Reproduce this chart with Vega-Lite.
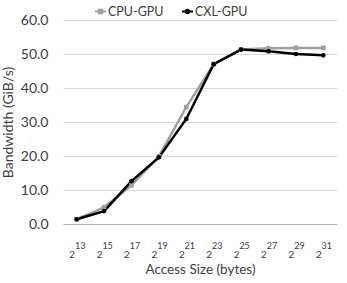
{
  "$schema": "https://vega.github.io/schema/vega-lite/v6.json",
  "width": 274,
  "height": 204,
  "autosize": {"type": "none"},
  "padding": {"left": 63, "top": 20, "right": 10, "bottom": 59},
  "config": {
    "view": {"stroke": null},
    "font": "Lato",
    "axis": {"labelFont": "Lato", "titleFont": "Lato", "labelColor": "#404040", "titleColor": "#404040", "titleFontWeight": "normal"}
  },
  "data": {
    "values": [
      {"size": "13", "series": "CPU-GPU", "bw": 1.4},
      {"size": "15", "series": "CPU-GPU", "bw": 4.9},
      {"size": "17", "series": "CPU-GPU", "bw": 11.4},
      {"size": "19", "series": "CPU-GPU", "bw": 19.9},
      {"size": "21", "series": "CPU-GPU", "bw": 34.4},
      {"size": "23", "series": "CPU-GPU", "bw": 47.0},
      {"size": "25", "series": "CPU-GPU", "bw": 51.3},
      {"size": "27", "series": "CPU-GPU", "bw": 51.7},
      {"size": "29", "series": "CPU-GPU", "bw": 51.8},
      {"size": "31", "series": "CPU-GPU", "bw": 51.8},
      {"size": "13", "series": "CXL-GPU", "bw": 1.4},
      {"size": "15", "series": "CXL-GPU", "bw": 3.8},
      {"size": "17", "series": "CXL-GPU", "bw": 12.6},
      {"size": "19", "series": "CXL-GPU", "bw": 19.6},
      {"size": "21", "series": "CXL-GPU", "bw": 30.9},
      {"size": "23", "series": "CXL-GPU", "bw": 47.0},
      {"size": "25", "series": "CXL-GPU", "bw": 51.3},
      {"size": "27", "series": "CXL-GPU", "bw": 50.8},
      {"size": "29", "series": "CXL-GPU", "bw": 50.0},
      {"size": "31", "series": "CXL-GPU", "bw": 49.6}
    ]
  },
  "encoding": {
    "y": {
      "field": "bw",
      "type": "quantitative",
      "scale": {"domain": [0, 60]},
      "axis": {
        "title": "Bandwidth (GiB/s)",
        "values": [0, 10, 20, 30, 40, 50, 60],
        "format": ".1f",
        "labelFontSize": 14,
        "labelPadding": 15,
        "ticks": false,
        "domain": false,
        "gridColor": "#d9d9d9",
        "titleFontSize": 14,
        "titlePadding": 5
      }
    },
    "color": {
      "field": "series",
      "type": "nominal",
      "scale": {"domain": ["CPU-GPU", "CXL-GPU"], "range": ["#a0a0a0", "#000000"]},
      "legend": {
        "title": null,
        "orient": "none",
        "legendX": 31,
        "legendY": -15,
        "direction": "horizontal",
        "labelFont": "Lato",
        "labelFontSize": 12.5,
        "labelColor": "#404040",
        "labelOffset": 1,
        "columnPadding": 14,
        "symbolType": "M-1,0H1M-0.3,-0.3H0.3V0.3H-0.3Z",
        "symbolSize": 121,
        "symbolStrokeWidth": 2,
        "symbolOpacity": 1,
        "encode": {
          "symbols": {
            "update": {
              "shape": {"signal": "datum.value === 'CPU-GPU' ? 'M-1,0H1M-0.3,-0.3H0.3V0.3H-0.3Z' : 'M-1,0H1M-0.3,0A0.3,0.3 0 1,0 0.3,0A0.3,0.3 0 1,0 -0.3,0Z'"},
              "fill": {"signal": "datum.value === 'CPU-GPU' ? '#a0a0a0' : '#000000'"},
              "stroke": {"signal": "datum.value === 'CPU-GPU' ? '#a0a0a0' : '#000000'"},
              "fillOpacity": {"value": 1}
            }
          }
        }
      }
    }
  },
  "layer": [
    {
      "mark": {"type": "line", "strokeWidth": 2.5},
      "encoding": {
        "x": {
          "field": "size",
          "type": "ordinal",
          "sort": ["13", "15", "17", "19", "21", "23", "25", "27", "29", "31"],
          "scale": {"type": "point", "padding": 0.5},
          "axis": {
            "orient": "bottom",
            "title": "Access Size (bytes)",
            "labelAngle": 0,
            "labelFontSize": 10,
            "labelPadding": 25,
            "labelOffset": -5,
            "labelOverlap": false,
            "labelExpr": "'2'",
            "ticks": false,
            "domainColor": "#b0b0b0",
            "domainWidth": 1,
            "titleFontSize": 13.5,
            "titlePadding": 3
          }
        }
      }
    },
    {
      "transform": [{"filter": "datum.series === 'CPU-GPU'"}],
      "mark": {"type": "point", "shape": "square", "filled": true, "size": 22, "opacity": 1},
      "encoding": {
        "x": {
          "field": "size",
          "type": "ordinal",
          "sort": ["13", "15", "17", "19", "21", "23", "25", "27", "29", "31"],
          "scale": {"type": "point", "padding": 0.5},
          "axis": {
            "orient": "bottom",
            "title": null,
            "labelAngle": 0,
            "labelFontSize": 9,
            "labelPadding": 17,
            "labelOffset": 3,
            "labelOverlap": false,
            "ticks": false,
            "domain": false,
            "grid": false
          }
        }
      }
    },
    {
      "transform": [{"filter": "datum.series === 'CXL-GPU'"}],
      "mark": {"type": "point", "shape": "circle", "filled": true, "size": 22, "opacity": 1},
      "encoding": {
        "x": {
          "field": "size",
          "type": "ordinal",
          "sort": ["13", "15", "17", "19", "21", "23", "25", "27", "29", "31"],
          "scale": {"type": "point", "padding": 0.5},
          "axis": null
        }
      }
    }
  ],
  "resolve": {"axis": {"x": "independent"}}
}
